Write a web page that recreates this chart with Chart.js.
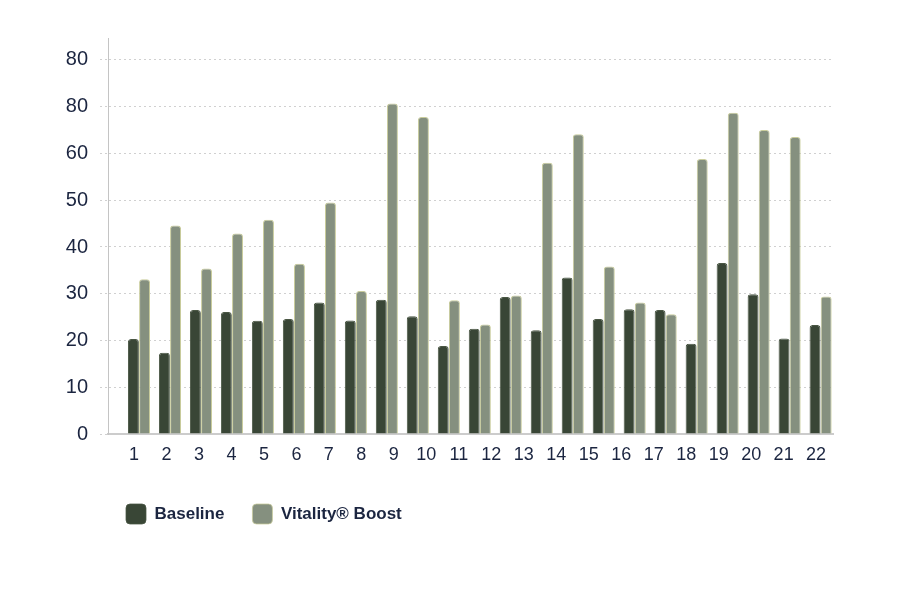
<!DOCTYPE html>
<html lang="en">
<head>
    <meta charset="UTF-8">
    <title>Baseline vs Vitality Boost</title>
    <script src="https://cdn.jsdelivr.net/npm/chart.js"></script>
    <style>
        body { margin: 0; background: #ffffff; }
        canvas { display: block; }
    </style>
</head>
<body>
    <canvas id="boostChart" width="900" height="600"></canvas>
    <script>
        // bar groups as drawn (23 pairs), the axis below only carries 22 labels
        const groups = [1, 2, 3, 4, 5, 6, 7, 8, 9, 10, 11, 12, 13, 14, 15, 16, 17, 18, 19, 20, 21, 22, 23];
        const xLabels = ['1', '2', '3', '4', '5', '6', '7', '8', '9', '10', '11',
                         '12', '13', '14', '15', '16', '17', '18', '19', '20', '21', '22'];
        const yLabels = ['0', '10', '20', '30', '40', '50', '60', '80', '80'];

        const baseline = [20.3, 17.4, 26.5, 26.1, 24.2, 24.6, 28.1, 24.3, 28.7, 25.2, 18.8, 22.5,
                          29.3, 22.2, 33.5, 24.6, 26.7, 26.5, 19.3, 36.6, 29.9, 20.4, 23.3];
        const vitality = [33.1, 44.6, 35.4, 42.9, 45.8, 36.4, 49.5, 30.6, 70.7, 67.8, 28.6, 23.4,
                          29.6, 58.0, 64.1, 35.8, 28.1, 25.6, 58.8, 68.7, 65.0, 63.5, 29.4];

        const textColor = '#1b2540';
        const fontFamily = '"Liberation Sans", Arial, sans-serif';

        // move the legend under the plot, lined up with the first bars
        const legendPlace = {
            id: 'legendPlace',
            afterLayout(chart) {
                const lg = chart.legend;
                lg.left = chart.chartArea.left + 18 - lg.options.labels.padding;
                lg.top = chart.chartArea.bottom + 70 - lg.options.labels.padding;
            }
        };

        const barStyle = {
            borderColor: '#c9cc9c',
            borderWidth: { top: 1, left: 1, right: 1, bottom: 0 },
            borderRadius: { topLeft: 3, topRight: 3 },
            borderSkipped: 'start',
            categoryPercentage: 0.72,
            barPercentage: 0.98
        };

        new Chart(document.getElementById('boostChart'), {
            type: 'bar',
            data: {
                datasets: [
                    {
                        label: 'Baseline',
                        data: groups.map((g, i) => ({ x: g, y: baseline[i] })),
                        backgroundColor: '#394636',
                        ...barStyle,
                        borderColor: '#4a5744'
                    },
                    {
                        label: 'Vitality® Boost',
                        data: groups.map((g, i) => ({ x: g, y: vitality[i] })),
                        backgroundColor: '#85907f',
                        ...barStyle
                    }
                ]
            },
            options: {
                responsive: false,
                animation: false,
                layout: {
                    padding: { top: 38, right: 67, bottom: 75, left: 58 }
                },
                scales: {
                    x: {
                        type: 'linear',
                        display: false,
                        offset: false,
                        grid: { offset: false },
                        min: 0,
                        max: 23.4
                    },
                    xl: {
                        type: 'linear',
                        position: 'bottom',
                        offset: false,
                        min: 0.2,
                        max: 22.52,
                        grid: { display: false, drawTicks: false, offset: false },
                        border: { color: '#cccccc', width: 2 },
                        afterBuildTicks: scale => {
                            scale.ticks = xLabels.map((l, i) => ({ value: i + 1 }));
                        },
                        afterFit: scale => { scale.height = 33; },
                        ticks: {
                            autoSkip: false,
                            maxRotation: 0,
                            padding: 10,
                            color: textColor,
                            font: { family: fontFamily, size: 18 },
                            callback: v => xLabels[v - 1]
                        }
                    },
                    y: {
                        min: 0,
                        max: 84.7,
                        grid: {
                            color: '#d0d0d0',
                            tickBorderDash: [2, 3],
                            tickLength: 8
                        },
                        border: { color: '#c4c4c4', width: 1, dash: [2, 3] },
                        afterBuildTicks: scale => {
                            scale.ticks = yLabels.map((l, i) => ({ value: i * 10 }));
                        },
                        afterFit: scale => { scale.width = 50; },
                        ticks: {
                            autoSkip: false,
                            padding: 12,
                            color: textColor,
                            font: { family: fontFamily, size: 20 },
                            callback: v => yLabels[v / 10]
                        }
                    }
                },
                plugins: {
                    legend: {
                        position: 'bottom',
                        align: 'start',
                        labels: {
                            boxWidth: 20,
                            boxHeight: 20,
                            useBorderRadius: true,
                            borderRadius: 4,
                            padding: 28,
                            color: textColor,
                            font: { family: fontFamily, size: 17, weight: 'bold' }
                        }
                    },
                    tooltip: { enabled: false }
                }
            },
            plugins: [legendPlace]
        });
    </script>
</body>
</html>
